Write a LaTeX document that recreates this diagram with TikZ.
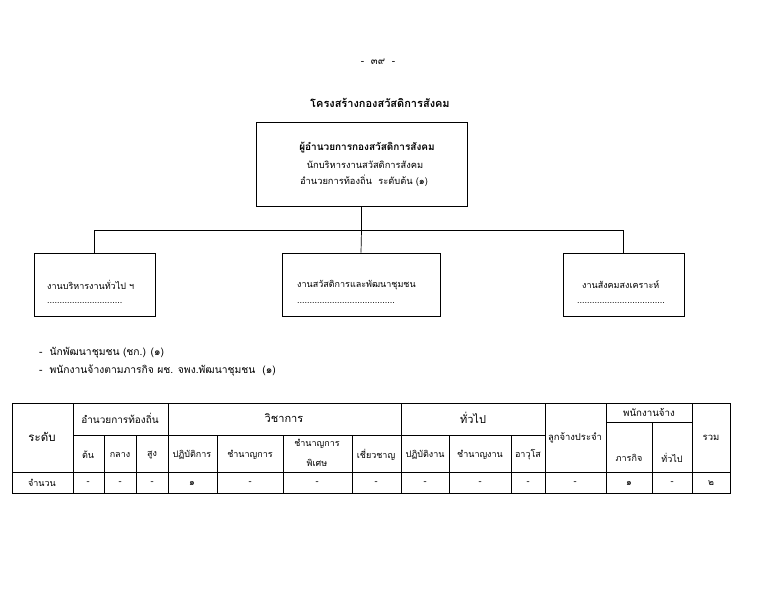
\documentclass[tikz,border=0pt]{standalone}
\usepackage{fontspec}
\setmainfont[Script=Thai]{Loma}
\begin{document}
\begin{tikzpicture}[x=1pt,y=-1pt,
  orgbox/.style={draw,line width=0.8pt,inner sep=0pt},
  conn/.style={line width=0.7pt},
  tline/.style={line width=0.6pt},
  ttxt/.style={font=\fontsize{9}{11}\selectfont,inner sep=0pt},
  thead/.style={font=\fontsize{10}{12}\selectfont,inner sep=0pt},
  btxt/.style={font=\fontsize{9}{11}\selectfont,inner sep=0pt,anchor=west},
  ltxt/.style={font=\fontsize{10.3}{12}\selectfont,inner sep=0pt,anchor=west}]
\useasboundingbox (0,0) rectangle (778,600);
% page number and title
\node[font=\fontsize{10}{12}\selectfont] (pg) at (378,62) {-\ \ ๓๙\ \ -};
\node[font=\bfseries\fontsize{11}{13}\selectfont] (title) at (380,103) {โครงสร้างกองสวัสดิการสังคม};
% top box
\node[orgbox,minimum width=211pt,minimum height=84pt] (top) at (361.5,164) {};
\node[font=\bfseries\fontsize{10}{12}\selectfont,inner sep=0pt] (t1) at (367,148) {ผู้อำนวยการกองสวัสดิการสังคม};
\node[font=\fontsize{9.3}{11}\selectfont,inner sep=0pt] (t2) at (365,165) {นักบริหารงานสวัสดิการสังคม};
\node[font=\fontsize{9.3}{11}\selectfont,inner sep=0pt] (t3) at (364,181) {อำนวยการท้องถิ่น\ \ ระดับต้น (๑)};
% sub boxes
\node[orgbox,minimum width=121pt,minimum height=63pt] (b1) at (94.5,284.5) {};
\node[orgbox,minimum width=158pt,minimum height=63pt] (b2) at (361,284.5) {};
\node[orgbox,minimum width=121pt,minimum height=63pt] (b3) at (623.5,284.5) {};
\node[btxt] (b1t) at (47,285) {งานบริหารงานทั่วไป ฯ};
\node[btxt] (b1d) at (47,303) {..............................};
\node[btxt] (b2t) at (297,285) {งานสวัสดิการและพัฒนาชุมชน};
\node[btxt] (b2d) at (297,303) {.......................................};
\node[btxt] (b3t) at (582,285) {งานสังคมสงเคราะห์};
\node[btxt] (b3d) at (577,303) {...................................};
% connectors
\coordinate (j) at (361.5,230);
\draw[conn] (top.south) -- (j);
\draw[conn] (j) -| (b1.north);
\draw[conn] (j) -| (b3.north);
\draw[conn] (j) -- (b2.north);
% bullets
\node[ltxt] (l1) at (39,353) {-\ \ นักพัฒนาชุมชน (ชก.) (๑)};
\node[ltxt] (l2) at (39,371) {-\ \ พนักงานจ้างตามภารกิจ ผช. จพง.พัฒนาชุมชน\ \ (๑)};
% table grid
\draw[tline] (12,403) rectangle (730,493);
\draw[tline] (73,435) -- (545,435);
\draw[tline] (606,422) -- (692,422);
\draw[tline] (12,472) -- (730,472);
\foreach \x in {73,168,401,545,606,692} \draw[tline] (\x,403) -- (\x,493);
\foreach \x in {104,136,217,283,352,449,511} \draw[tline] (\x,435) -- (\x,493);
\draw[tline] (652,422) -- (652,493);
% header texts
\node[thead,font=\fontsize{11.5}{13}\selectfont] (h0) at (42,437) {ระดับ};
\node[thead] (h1) at (120,418) {อำนวยการท้องถิ่น};
\node[thead,font=\fontsize{11}{13}\selectfont] (h2) at (284,418) {วิชาการ};
\node[thead,font=\fontsize{11}{13}\selectfont] (h3) at (473,418) {ทั่วไป};
\node[thead,font=\fontsize{9.4}{11}\selectfont] (h4) at (575,438) {ลูกจ้างประจำ};
\node[thead,font=\fontsize{9.7}{11}\selectfont] (h5) at (649,412) {พนักงานจ้าง};
\node[thead,font=\fontsize{9.5}{11}\selectfont] (h6) at (711,438) {รวม};
\node[ttxt] (s1) at (88,455) {ต้น};
\node[ttxt] (s2) at (120,455) {กลาง};
\node[ttxt] (s3) at (152,455) {สูง};
\node[ttxt] (s4) at (192,455) {ปฏิบัติการ};
\node[ttxt] (s5) at (250,455) {ชำนาญการ};
\node[ttxt,align=center,font=\fontsize{9}{20}\selectfont] (s6) at (317,453) {ชำนาญการ\\พิเศษ};
\node[ttxt] (s7) at (376,455) {เชี่ยวชาญ};
\node[ttxt] (s8) at (425,455) {ปฏิบัติงาน};
\node[ttxt] (s9) at (480,455) {ชำนาญงาน};
\node[ttxt] (s10) at (528,455) {อาวุโส};
\node[ttxt] (s11) at (629,458) {ภารกิจ};
\node[ttxt] (s12) at (672,458) {ทั่วไป};
% data row
\node[ttxt] (r0) at (42,483) {จำนวน};
\foreach \x/\v [count=\i] in {88/-,120/-,152/-,192/๑,250/-,317/-,376/-,425/-,480/-,528/-,575/-,629/๑,672/-,711/๒}
  \node[ttxt] (r\i) at (\x,483) {\v};
\end{tikzpicture}
\end{document}
